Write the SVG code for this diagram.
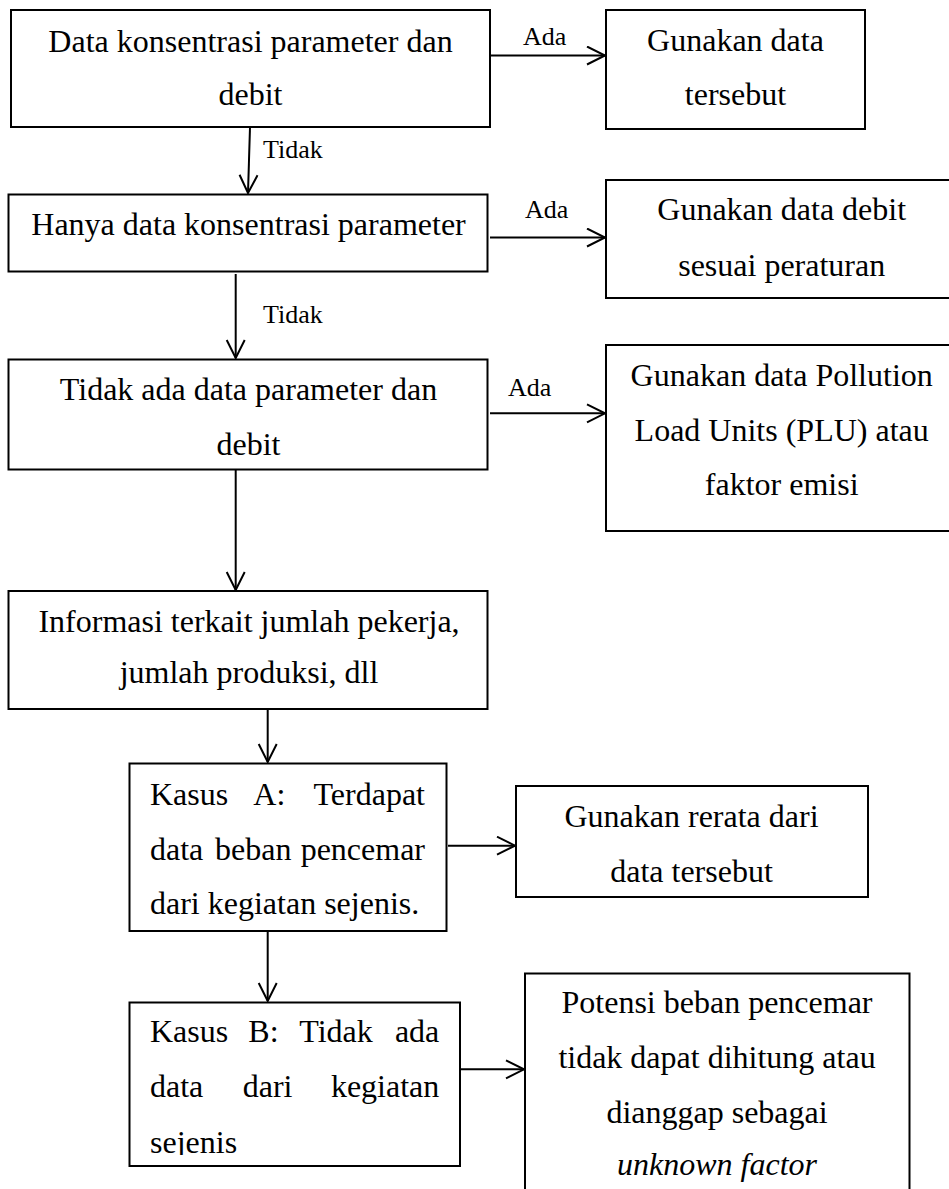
<svg xmlns="http://www.w3.org/2000/svg" width="949" height="1189" viewBox="0 0 949 1189">
  <style>
    .box { fill: #ffffff; stroke: #000000; stroke-width: 2; }
    .t { font-family: "Liberation Serif", "Times New Roman", serif; font-size: 32px; fill: #000000; }
    .c { text-anchor: middle; }
    .e { text-anchor: end; }
    .lbl { font-family: "Liberation Serif", "Times New Roman", serif; font-size: 26px; fill: #000000; }
    .conn { stroke: #000000; stroke-width: 2; fill: none; marker-end: url(#arr); }
  </style>
  <defs>
    <marker id="arr" markerUnits="userSpaceOnUse" markerWidth="22" markerHeight="22" refX="19" refY="10" orient="auto">
      <path d="M1,1 L19,10 L1,19" fill="none" stroke="#000000" stroke-width="2"/>
    </marker>
    <clipPath id="clipB">
      <rect x="130" y="1003" width="330" height="152"/>
    </clipPath>
  </defs>
  <rect width="949" height="1189" fill="#ffffff"/>

  <g id="connectors">
    <line class="conn" x1="490" y1="55.5" x2="605" y2="55.5"/>
    <line class="conn" x1="250" y1="127" x2="248" y2="193"/>
    <line class="conn" x1="490" y1="237.5" x2="605" y2="237.5"/>
    <line class="conn" x1="235.7" y1="274" x2="235.7" y2="358"/>
    <line class="conn" x1="490" y1="413.3" x2="605" y2="413.3"/>
    <line class="conn" x1="235.7" y1="469" x2="235.7" y2="590"/>
    <line class="conn" x1="267.7" y1="698" x2="267.7" y2="762"/>
    <line class="conn" x1="448" y1="845.7" x2="515" y2="845.7"/>
    <line class="conn" x1="267.7" y1="931" x2="267.7" y2="1001"/>
    <line class="conn" x1="458" y1="1069.3" x2="524" y2="1069.3"/>
    <text class="lbl" x="523" y="45">Ada</text>
    <text class="lbl" x="263" y="158">Tidak</text>
    <text class="lbl" x="525" y="218">Ada</text>
    <text class="lbl" x="263" y="322.7">Tidak</text>
    <text class="lbl" x="508" y="396">Ada</text>
  </g>

  <g id="n1">
    <rect class="box" x="11" y="10" width="479" height="117"/>
    <text class="t c" x="250.5" y="52">Data konsentrasi parameter dan</text>
    <text class="t c" x="250.5" y="105">debit</text>
  </g>
  <g id="n2">
    <rect class="box" x="606" y="10" width="259" height="119"/>
    <text class="t c" x="735.5" y="51">Gunakan data</text>
    <text class="t c" x="735.5" y="105">tersebut</text>
  </g>
  <g id="n3">
    <rect class="box" x="8.5" y="194.5" width="479" height="77"/>
    <text class="t c" x="248.5" y="235">Hanya data konsentrasi parameter</text>
  </g>
  <g id="n4">
    <rect class="box" x="606" y="180" width="360" height="118"/>
    <text class="t c" x="781.7" y="220">Gunakan data debit</text>
    <text class="t c" x="781.7" y="276">sesuai peraturan</text>
  </g>
  <g id="n5">
    <rect class="box" x="8.5" y="359.5" width="479" height="110"/>
    <text class="t c" x="248.5" y="400">Tidak ada data parameter dan</text>
    <text class="t c" x="248.5" y="455">debit</text>
  </g>
  <g id="n6">
    <rect class="box" x="606" y="345" width="360" height="186"/>
    <text class="t c" x="781.7" y="386">Gunakan data Pollution</text>
    <text class="t c" x="781.7" y="440.7">Load Units (PLU) atau</text>
    <text class="t c" x="781.7" y="495">faktor emisi</text>
  </g>
  <g id="n7">
    <rect class="box" x="8.5" y="591" width="479" height="118"/>
    <text class="t c" x="249" y="631.7">Informasi terkait jumlah pekerja,</text>
    <text class="t c" x="249" y="683">jumlah produksi, dll</text>
  </g>
  <g id="n8">
    <rect class="box" x="129.5" y="763.5" width="317" height="167.5"/>
    <text class="t" x="150" y="805">Kasus</text>
    <text class="t" x="253.3" y="805">A:</text>
    <text class="t e" x="425" y="805">Terdapat</text>
    <text class="t" x="150" y="860">data</text>
    <text class="t" x="215" y="860">beban</text>
    <text class="t e" x="425" y="860">pencemar</text>
    <text class="t" x="150" y="914">dari kegiatan sejenis.</text>
  </g>
  <g id="n9">
    <rect class="box" x="516" y="786" width="352" height="111"/>
    <text class="t c" x="691.5" y="826.7">Gunakan rerata dari</text>
    <text class="t c" x="691.5" y="881.7">data tersebut</text>
  </g>
  <g id="n10">
    <rect class="box" x="129.5" y="1002.5" width="330.5" height="163.5"/>
    <text class="t" x="150" y="1042">Kasus</text>
    <text class="t" x="248.3" y="1042">B:</text>
    <text class="t" x="299.3" y="1042">Tidak</text>
    <text class="t e" x="439.3" y="1042">ada</text>
    <text class="t" x="150" y="1097.3">data</text>
    <text class="t" x="242.7" y="1097.3">dari</text>
    <text class="t e" x="439.3" y="1097.3">kegiatan</text>
    <text class="t" x="150" y="1152.7" clip-path="url(#clipB)">sejenis</text>
  </g>
  <g id="n11">
    <rect class="box" x="525" y="973.5" width="384.5" height="240"/>
    <text class="t c" x="717" y="1013.3">Potensi beban pencemar</text>
    <text class="t c" x="717" y="1068.3">tidak dapat dihitung atau</text>
    <text class="t c" x="717" y="1123.3">dianggap sebagai</text>
    <text class="t c" x="717" y="1175" font-style="italic">unknown factor</text>
  </g>
</svg>
